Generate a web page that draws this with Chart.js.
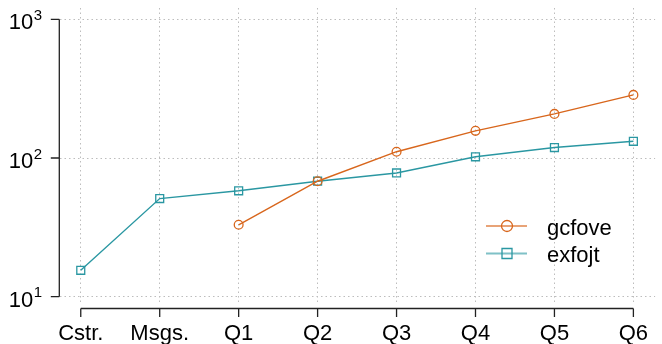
<!DOCTYPE html>
<html>
<head>
<meta charset="utf-8">
<script src="https://cdn.jsdelivr.net/npm/chart.js@4/dist/chart.umd.min.js"></script>
<style>
  html, body { margin: 0; padding: 0; background: #ffffff; }
  #wrap { width: 662px; height: 344px; }
</style>
</head>
<body>
<div id="wrap"><canvas id="c" width="662" height="344"></canvas></div>
<script>
// Categories along the x axis
const categories = ['Cstr.', 'Msgs.', 'Q1', 'Q2', 'Q3', 'Q4', 'Q5', 'Q6'];
// Series values (null = no measurement)
const gcfove = [null, null, 33, 68, 111, 157, 208, 285];
const exfojt = [15.5, 51, 58, 68, 78, 102, 119, 132];
// Log-scale tick positions (powers of ten)
const yTickValues = [10, 100, 1000];

const seriesNames = ['gcfove', 'exfojt'];
const seriesColors = ['#D8661C', '#2A97A2'];
const seriesMarkers = ['circle', 'rect'];

const FONT = "'Liberation Sans', Arial, sans-serif";

function toPoints(vals) {
  return categories.map((c, i) => ({ x: i, y: vals[i] }));
}

// Base-graphics style axes, tick labels and legend
const rAxes = {
  id: 'rAxes',
  afterDraw(chart) {
    const ctx = chart.ctx;
    const xs = chart.scales.x, ys = chart.scales.y;
    const area = chart.chartArea;
    ctx.save();
    ctx.strokeStyle = '#222222';
    ctx.fillStyle = '#000000';
    ctx.lineWidth = 1.3;

    // y axis
    const axX = area.left - 0.7;
    const yTop = ys.getPixelForValue(yTickValues[yTickValues.length - 1]);
    const yBot = ys.getPixelForValue(yTickValues[0]);
    ctx.beginPath();
    ctx.moveTo(axX, yTop); ctx.lineTo(axX, yBot);
    yTickValues.forEach(v => {
      const p = ys.getPixelForValue(v);
      ctx.moveTo(axX, p); ctx.lineTo(axX - 8.5, p);
    });
    ctx.stroke();
    yTickValues.forEach(v => {
      const p = ys.getPixelForValue(v);
      const exp = String(Math.round(Math.log10(v)));
      ctx.font = '15px ' + FONT;
      const ew = ctx.measureText(exp).width;
      const right = 42;
      ctx.textAlign = 'left';
      ctx.textBaseline = 'alphabetic';
      ctx.fillText(exp, right - ew, p + 0.5);
      ctx.font = '22px ' + FONT;
      ctx.textAlign = 'right';
      ctx.fillText('10', right - ew - 0.5, p + 10);
    });

    // x axis
    const axY = 308.5;
    const x0 = xs.getPixelForValue(0), x1 = xs.getPixelForValue(categories.length - 1);
    ctx.beginPath();
    ctx.moveTo(x0, axY); ctx.lineTo(x1, axY);
    categories.forEach((c, i) => {
      const p = xs.getPixelForValue(i);
      ctx.moveTo(p, axY); ctx.lineTo(p, axY + 8.5);
    });
    ctx.stroke();
    ctx.font = '22px ' + FONT;
    ctx.textAlign = 'center';
    ctx.textBaseline = 'alphabetic';
    categories.forEach((c, i) => {
      ctx.fillText(c, xs.getPixelForValue(i), 340);
    });

    // legend
    const legY = [226, 253.5];
    seriesNames.forEach((name, k) => {
      const y = legY[k];
      ctx.globalAlpha = 0.6;
      ctx.strokeStyle = seriesColors[k];
      ctx.lineWidth = 2;
      ctx.beginPath();
      ctx.moveTo(486, y); ctx.lineTo(527, y);
      ctx.stroke();
      ctx.globalAlpha = 1;
      ctx.lineWidth = 1.3;
      ctx.beginPath();
      if (seriesMarkers[k] === 'circle') {
        ctx.arc(507, y, 5.5, 0, Math.PI * 2);
      } else {
        ctx.rect(502, y - 5, 10, 10);
      }
      ctx.stroke();
      ctx.fillStyle = '#000000';
      ctx.font = '22px ' + FONT;
      ctx.textAlign = 'left';
      ctx.fillText(name, 547, y + 8.5);
    });
    ctx.restore();
  }
};

const gridStyle = {
  color: '#BDBDBD',
  lineWidth: 1,
  drawTicks: false
};

new Chart(document.getElementById('c'), {
  type: 'line',
  data: {
    datasets: [
      {
        label: seriesNames[0],
        data: toPoints(gcfove),
        borderColor: seriesColors[0],
        backgroundColor: 'rgba(0,0,0,0)',
        borderWidth: 1.4,
        pointStyle: seriesMarkers[0],
        pointRadius: 4.4,
        pointBorderWidth: 1.3,
        pointBackgroundColor: 'rgba(0,0,0,0)',
        tension: 0
      },
      {
        label: seriesNames[1],
        data: toPoints(exfojt),
        borderColor: seriesColors[1],
        backgroundColor: 'rgba(0,0,0,0)',
        borderWidth: 1.4,
        pointStyle: seriesMarkers[1],
        pointRadius: 5.6,
        pointBorderWidth: 1.3,
        pointBackgroundColor: 'rgba(0,0,0,0)',
        tension: 0
      }
    ]
  },
  options: {
    responsive: false,
    animation: false,
    devicePixelRatio: 1,
    layout: { padding: { left: 60, top: 8, right: 0, bottom: 41 } },
    plugins: { legend: { display: false }, tooltip: { enabled: false } },
    elements: { line: { fill: false } },
    scales: {
      x: {
        type: 'linear',
        min: -0.263,
        max: 7.275,
        border: { display: false, dash: [1.5, 3] },
        grid: Object.assign({}, gridStyle),
        ticks: { display: false },
        afterBuildTicks: s => { s.ticks = categories.map((c, i) => ({ value: i })); },
        afterFit: s => { s.height = 0; }
      },
      y: {
        type: 'logarithmic',
        min: Math.pow(10, 1 - 6.3 / 138.7),
        max: Math.pow(10, 3 + 11.3 / 138.7),
        border: { display: false, dash: [1.5, 3] },
        grid: Object.assign({}, gridStyle),
        ticks: { display: false },
        afterBuildTicks: s => { s.ticks = yTickValues.map(v => ({ value: v })); },
        afterFit: s => { s.width = 0; }
      }
    }
  },
  plugins: [rAxes]
});
</script>
</body>
</html>
